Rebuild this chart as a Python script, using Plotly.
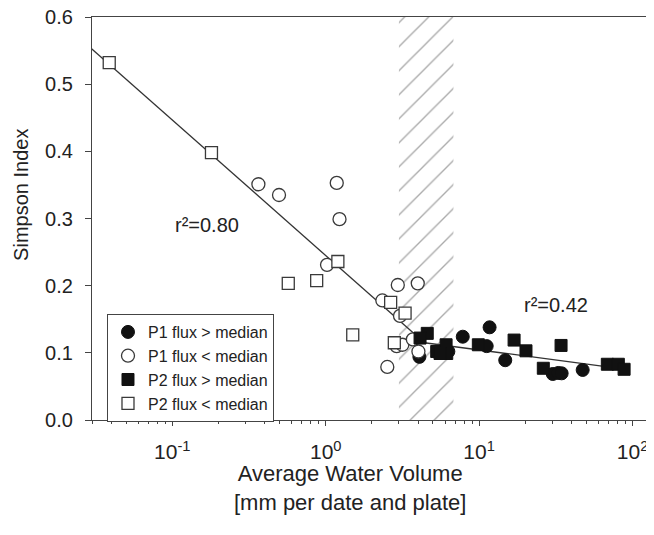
import math
import plotly.graph_objects as go

# ---------------- data ----------------
p1_hi_x = [4.08, 6.30, 7.82, 11.2, 11.7, 14.8, 30.2, 32.8, 34.5, 47.3]
p1_hi_y = [0.094, 0.102, 0.124, 0.110, 0.138, 0.089, 0.0685, 0.070, 0.0695, 0.0745]

p1_lo_x = [0.364, 0.496, 1.18, 1.23, 1.02, 2.34, 2.95, 3.98, 3.05, 2.90, 3.16, 4.02, 2.52, 3.7]
p1_lo_y = [0.351, 0.335, 0.353, 0.299, 0.231, 0.178, 0.201, 0.2035, 0.155, 0.110, 0.112, 0.102, 0.079, 0.120]

p2_hi_x = [4.59, 4.12, 5.29, 6.09, 6.15, 5.56, 9.88, 16.9, 20.2, 34.2, 26.2, 68.5, 80.8, 88.1]
p2_hi_y = [0.129, 0.122, 0.102, 0.112, 0.099, 0.099, 0.112, 0.119, 0.103, 0.111, 0.077, 0.083, 0.083, 0.0755]

p2_lo_x = [0.0388, 0.180, 0.570, 0.873, 1.20, 1.50, 2.65, 3.29, 2.8]
p2_lo_y = [0.532, 0.398, 0.2035, 0.2075, 0.236, 0.1266, 0.175, 0.159, 0.115]

fit1_x = [0.0297, 4.4]
fit1_y = [0.553, 0.115]
fit2_x = [4.4, 65.0]
fit2_y = [0.115, 0.080]

band_x = [3.0, 6.8]          # hatched band limits
y_range = [0.0, 0.6]
x_range_log = [-1.5235, 2.192]

xtick_vals = [0.1, 1, 10, 100]
xtick_text = ["10<sup>-1</sup>", "10<sup>0</sup>", "10<sup>1</sup>", "10<sup>2</sup>"]

legend_names = ["P1 flux > median", "P1 flux < median", "P2 flux > median", "P2 flux < median"]
r2_labels = ["r²=0.80", "r²=0.42"]
r2_pos_x = [0.168, 31.7]
r2_pos_y = [0.290, 0.171]

FONT = "Arial, Liberation Sans, Helvetica, sans-serif"
TXT = "#222222"
AX = "#444444"

fig = go.Figure()

# hatched band
fig.add_trace(go.Scatter(
    x=[band_x[0], band_x[1], band_x[1], band_x[0], band_x[0]],
    y=[y_range[0], y_range[0], y_range[1], y_range[1], y_range[0]],
    mode="lines", fill="toself", line=dict(width=0, color="rgba(0,0,0,0)"),
    fillcolor="rgba(255,255,255,0)",
    fillpattern=dict(shape="/", fgcolor="#555555", bgcolor="rgba(255,255,255,0)",
                     size=17, solidity=0.08),
    showlegend=False, hoverinfo="skip"))

# regression lines
for lx, ly in [(fit1_x, fit1_y), (fit2_x, fit2_y)]:
    fig.add_trace(go.Scatter(x=lx, y=ly, mode="lines",
                             line=dict(color="#333333", width=1.3),
                             showlegend=False, hoverinfo="skip"))

msize = 13
fig.add_trace(go.Scatter(x=p1_hi_x, y=p1_hi_y, mode="markers", name=legend_names[0],
                         marker=dict(symbol="circle", size=msize, color="#111111",
                                     line=dict(color="#111111", width=1))))
fig.add_trace(go.Scatter(x=p1_lo_x, y=p1_lo_y, mode="markers", name=legend_names[1],
                         marker=dict(symbol="circle", size=msize, color="white",
                                     line=dict(color="#3a3a3a", width=1.3))))
fig.add_trace(go.Scatter(x=p2_hi_x, y=p2_hi_y, mode="markers", name=legend_names[2],
                         marker=dict(symbol="square", size=msize - 1, color="#111111",
                                     line=dict(color="#111111", width=1))))
fig.add_trace(go.Scatter(x=p2_lo_x, y=p2_lo_y, mode="markers", name=legend_names[3],
                         marker=dict(symbol="square", size=msize - 1, color="white",
                                     line=dict(color="#3a3a3a", width=1.3))))

for t, ax_, ay_ in zip(r2_labels, r2_pos_x, r2_pos_y):
    fig.add_annotation(x=math.log10(ax_), y=ay_, text=t, showarrow=False,
                       xanchor="center", yanchor="middle",
                       font=dict(family=FONT, size=20, color=TXT))

fig.add_annotation(xref="paper", yref="paper", x=-0.125, y=0.558, text="Simpson Index",
                   xanchor="center", yanchor="middle",
                   textangle=-90, showarrow=False, font=dict(family=FONT, size=20, color=TXT))
fig.add_annotation(xref="paper", yref="paper", x=0.4526, y=-0.169,
                   xanchor="center", yanchor="middle",
                   text="Average Water Volume<br>[mm per date and plate]",
                   showarrow=False, font=dict(family=FONT, size=22, color=TXT))

fig.update_layout(
    width=654, height=535,
    margin=dict(l=84, r=0, t=9, b=123),
    paper_bgcolor="white", plot_bgcolor="white",
    font=dict(family=FONT, color=TXT),
    legend=dict(x=0.0263, y=0.263, xanchor="left", yanchor="top",
                bordercolor=AX, borderwidth=1, bgcolor="white",
                font=dict(family=FONT, size=16, color=TXT)),
    xaxis=dict(type="log", range=x_range_log, automargin=False,
               tickmode="array", tickvals=xtick_vals, ticktext=xtick_text,
               ticks="outside", ticklen=5, tickcolor=AX, tickwidth=1,
               minor=dict(ticks="outside", ticklen=3, tickcolor=AX, dtick="D1", showgrid=False),
               showline=True, linecolor=AX, linewidth=1.3, mirror=True,
               showgrid=False, zeroline=False, ticklabelstandoff=8,
               ticklabeloverflow="allow",
               tickfont=dict(family=FONT, size=21, color=TXT)),
    yaxis=dict(range=y_range, dtick=0.1, tickformat=".1f", automargin=False,
               ticks="outside", ticklen=6, tickcolor=AX, tickwidth=1,
               showline=True, linecolor=AX, linewidth=1.3, mirror=False,
               showgrid=False, zeroline=False, ticklabelstandoff=8,
               ticklabeloverflow="allow",
               tickfont=dict(family=FONT, size=20, color=TXT)),
)

fig.write_html("out.html")
